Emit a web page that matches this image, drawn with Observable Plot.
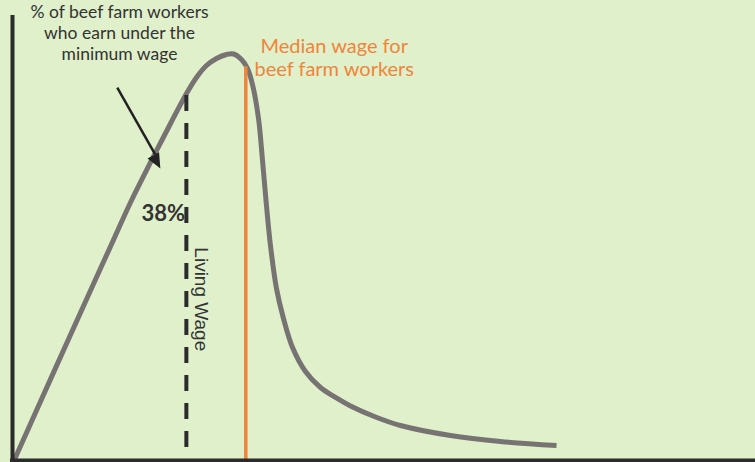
<!DOCTYPE html>
<html>
<head>
<meta charset="utf-8">
<script src="https://cdn.jsdelivr.net/npm/d3@7"></script>
<script src="https://cdn.jsdelivr.net/npm/@observablehq/plot@0.6"></script>
<style>
  html, body { margin: 0; padding: 0; background: #dff0ca; }
  #chart { width: 755px; height: 462px; overflow: hidden; }
</style>
</head>
<body>
<div id="chart"></div>
<script>
// Wage distribution curve (x: wage index 0-100, y: share index 0-100)
const wage = [0.27, 3.77, 7.40, 10.50, 13.19, 15.88, 18.57, 21.27, 23.42, 24.76, 26.11, 27.46, 28.80, 29.74, 30.82, 31.63, 32.30, 33.11, 33.65, 34.12, 34.72, 35.53, 36.47, 37.69, 39.43, 41.45, 43.47, 45.49, 48.86, 52.22, 58.95, 65.68, 73.22];
const share = [0.22, 13.26, 26.74, 38.20, 48.09, 57.98, 66.97, 75.73, 82.47, 86.07, 88.76, 90.34, 91.24, 91.35, 90.11, 88.09, 84.49, 76.85, 67.42, 58.43, 48.31, 38.65, 31.91, 25.39, 20.00, 16.40, 14.16, 12.25, 9.78, 7.87, 5.62, 4.27, 3.37];

const livingWage = 23.4;      // dashed line
const livingWageTop = 82.0;
const livingWageBottom = 2.9;
const medianWage = 31.4;      // orange line
const medianWageTop = 88.5;

const belowLabel = ["% of beef farm workers", "who earn under the", "minimum wage"];
const medianLabel = ["Median wage for", "beef farm workers"];
const pctLabel = ["38%"];
const livingLabel = ["Living Wage"];

const arrowStart = {x: 14.1, y: 83.8};
const arrowShaftEnd = {x: 19.2, y: 68.8};
const arrowTip = {x: 19.9, y: 65.6};

const curve = wage.map((w, i) => ({wage: w, share: share[i]}));

const bg = "#dff0ca";
const ink = "#333333";
const axisInk = "#2b2b2b";
const grey = "#777373";
const orange = "#ef853a";

const chart = Plot.plot({
  width: 755,
  height: 462,
  margin: 0,
  style: {background: bg, overflow: "visible"},
  x: {domain: [0, 100], range: [12, 755], axis: null},
  y: {domain: [0, 100], range: [460, 15], axis: null},
  marks: [
    Plot.text(pctLabel, {
      x: 20.3, y: 53.9, text: d => d, fontSize: 22, fontWeight: "bold",
      fontFamily: "Lato", fill: ink, textAnchor: "middle", lineAnchor: "bottom"
    }),
    Plot.line(curve, {
      x: "wage", y: "share", curve: "catmull-rom",
      stroke: grey, strokeWidth: 5, strokeLinecap: "butt", strokeLinejoin: "round"
    }),
    Plot.ruleX([livingWage], {
      y1: livingWageTop, y2: livingWageBottom, stroke: axisInk,
      strokeWidth: 4, strokeDasharray: "16,12"
    }),
    Plot.ruleX([medianWage], {
      y1: medianWageTop, y2: 0, stroke: orange, strokeWidth: 3.5
    }),
    Plot.ruleX([0], {y1: -0.45, y2: 100, stroke: axisInk, strokeWidth: 4}),
    Plot.ruleY([0], {x1: -0.27, x2: 100, stroke: axisInk, strokeWidth: 4}),
    Plot.link([arrowStart], {
      x1: d => d.x, y1: d => d.y, x2: arrowShaftEnd.x, y2: arrowShaftEnd.y,
      stroke: "#222222", strokeWidth: 2.5
    }),
    Plot.vector([arrowTip], {
      x: d => d.x, y: d => d.y, rotate: 152, length: 15, r: 6.5,
      shape: "spike", anchor: "end", fill: "#222222", stroke: "none"
    }),
    Plot.text([belowLabel.join("\n")], {
      x: 14.4, y: 89.9, text: d => d, fontSize: 17.5, fontFamily: "Lato",
      fill: ink, textAnchor: "middle", lineAnchor: "bottom", lineHeight: 1.2
    }),
    Plot.text([medianLabel.join("\n")], {
      x: 43.3, y: 86.5, text: d => d, fontSize: 20, fontFamily: "Lato",
      fill: orange, textAnchor: "middle", lineAnchor: "bottom", lineHeight: 1.15
    }),
    Plot.text(livingLabel, {
      x: 24.5, y: 47.9, text: d => d, rotate: 90, fontSize: 19,
      fontFamily: "Liberation Sans, Arial, sans-serif", fill: ink,
      textAnchor: "start", lineAnchor: "bottom"
    })
  ]
});

document.getElementById("chart").appendChild(chart);
</script>
</body>
</html>
